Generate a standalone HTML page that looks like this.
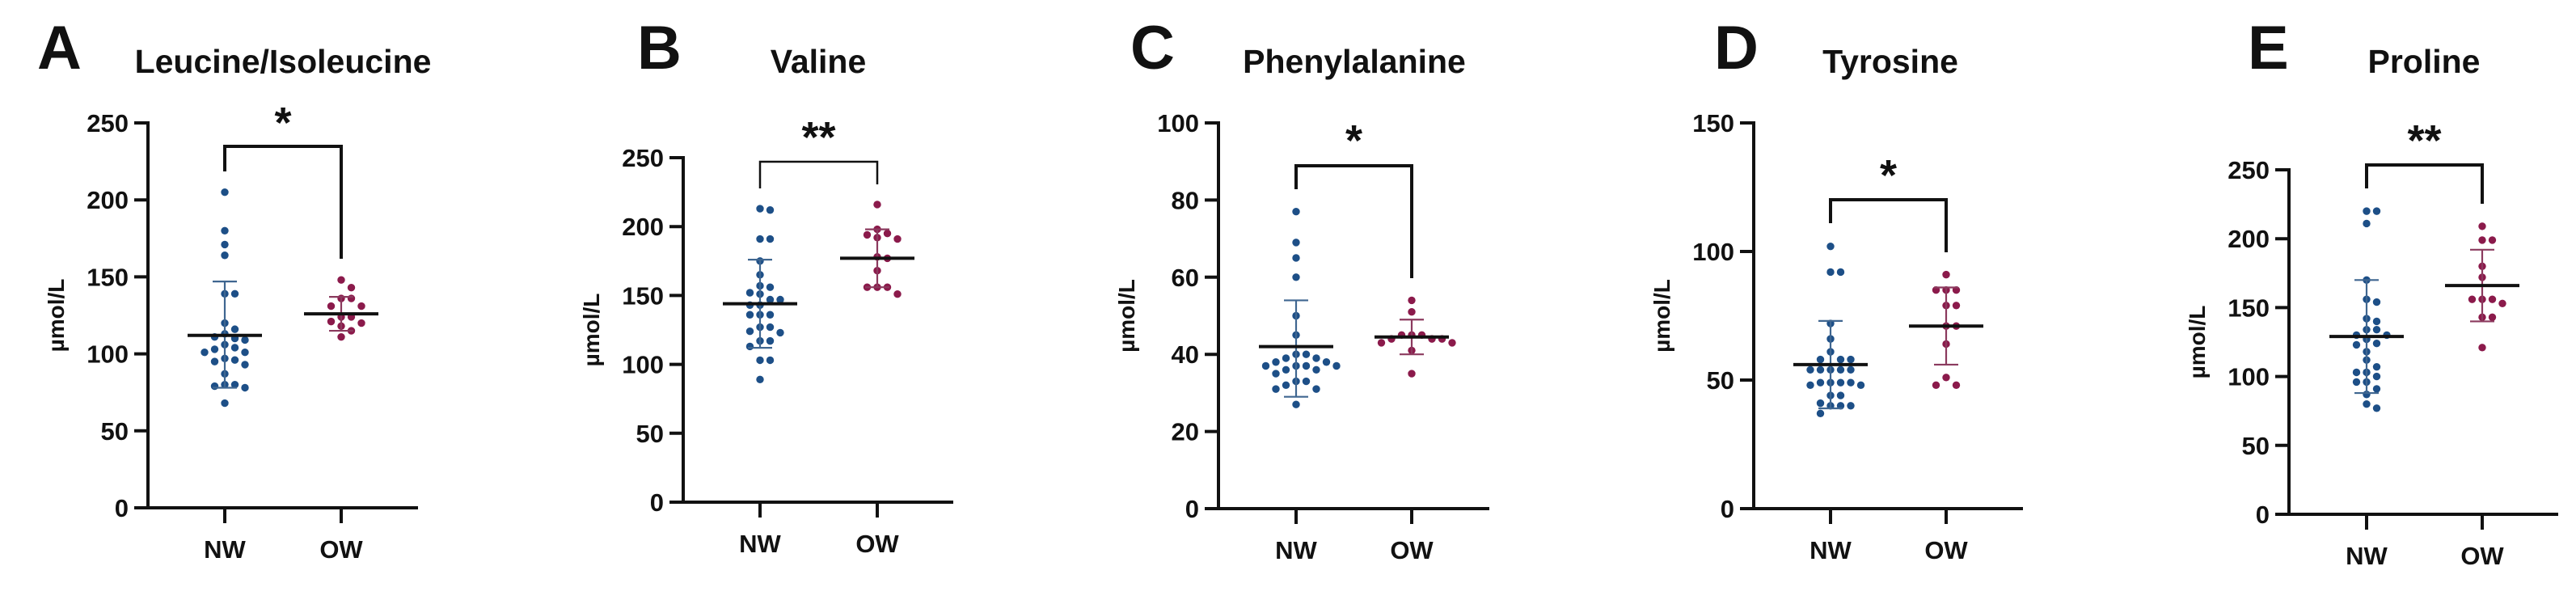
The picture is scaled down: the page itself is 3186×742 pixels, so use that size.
<!DOCTYPE html>
<html><head><meta charset="utf-8"><style>
html,body{margin:0;padding:0;background:#fff;}
svg{display:block;font-family:"Liberation Sans",Arial,sans-serif;font-weight:bold;}
</style></head><body>
<svg id="fig" width="3186" height="742" viewBox="0 0 3186 742" xmlns="http://www.w3.org/2000/svg"></svg>
<script>
const categories = ["NW","OW"];
const titles = ["Leucine/Isoleucine","Valine","Phenylalanine","Tyrosine","Proline"];
const letters = ["A","B","C","D","E"];
const sigLabels = ["*","**","*","*","**"];
const yMaxes = [250,250,100,150,250];
const tickSteps = [50,50,20,50,50];

const nwA = [205,180,171,164,139,139,120,116,113,111,110,109,106,104,103,101,101,97,96,95,93,87,80,80,79,78,68];
const owA = [148,143,136,136,131,131,124,124,121,120,118,115,111];
const nwB = [213,212,191,191,175,165,157,156,152,151,147,147,143,143,136,136,136,127,127,124,123,117,117,113,103,103,89];
const owB = [216,198,195,194,192,191,178,177,168,156,156,156,151];
const nwC = [77,69,65,60,50,45,40,40,39,39,38,38,37,37,37,37,36,36,35,33,33,32,31,31,27];
const owC = [54,51,45,45,45,44,44,44,43,43,41,35];
const nwD = [102,92,92,72,66,61,58,58,58,54,54,54,54,54,49,49,49,49,48,48,44,44,41,40,40,40,37];
const owD = [91,85,85,85,79,79,71,71,64,51,48,48];
const nwE = [220,220,211,170,156,154,142,140,134,134,130,130,127,124,123,118,112,107,103,103,100,96,96,91,87,80,77];
const owE = [209,199,199,180,172,156,156,156,153,143,143,121];

const meansNW = [112,144,42,56,129];
const meansOW = [126,177,44.5,71,166];
const errNW = [[78,147],[112,176],[29,54],[39,73],[88,170]];
const errOW = [[115,137],[156,198],[40,49],[56,86],[140,192]];
const groups = [[nwA,owA],[nwB,owB],[nwC,owC],[nwD,owD],[nwE,owE]];

// layout (pixels)
const layout = [
 {ax:183,xEnd:517,y0:628,yTop:152,nw:278,ow:422,brTop:181,brL:212,brR:320,starY:170,tx:350,lx:46,bw:4},
 {ax:845,xEnd:1179,y0:621,yTop:195,nw:940,ow:1085,brTop:200,brL:233,brR:228,starY:188,tx:1012,lx:788,bw:2.5},
 {ax:1507,xEnd:1842,y0:629,yTop:152,nw:1603,ow:1746,brTop:205,brL:234,brR:344,starY:192,tx:1675,lx:1398,bw:4},
 {ax:2169,xEnd:2502,y0:629,yTop:152,nw:2264,ow:2407,brTop:247,brL:276,brR:312,starY:235,tx:2338,lx:2120,bw:4},
 {ax:2831,xEnd:3164,y0:636,yTop:210,nw:2927,ow:3070,brTop:204,brL:233,brR:252,starY:192,tx:2998,lx:2780,bw:4}
];
const colors = ["#1d4f87","#8b1a4b"];
const barColors = ["#3f6690","#8b3a5e"];
const NS = "http://www.w3.org/2000/svg";
const svg = document.getElementById("fig");
function mk(tag, attrs, parent, text){
  const e = document.createElementNS(NS, tag);
  for (const k in attrs) e.setAttribute(k, attrs[k]);
  if (text !== undefined) e.textContent = text;
  (parent||svg).appendChild(e);
  return e;
}
function beeswarm(vals, yf, cx){
  const placed = [];
  const sorted = vals.map(v=>v).sort((a,b)=>b-a);
  const step = 12.5;
  return sorted.map(v=>{
    const y = yf(v);
    let x = cx;
    const cands = [0];
    for (let i=1;i<12;i++){cands.push(i*step, -i*step);}
    for (const off of cands){
      const tx = cx + off;
      if (!placed.some(p => Math.abs(p[0]-tx) < 12 && Math.abs(p[1]-y) < 10)){ x = tx; break; }
    }
    placed.push([x,y]);
    return [x,y];
  });
}

for (let p=0;p<5;p++){
  const L = layout[p];
  const g = mk("g",{});
  
  
  const yScale = v => L.y0 - (v / yMaxes[p]) * (L.y0 - L.yTop);
  const xs = [L.nw, L.ow];

  const letter = mk("text",{x:L.lx,y:85,"font-size":76,fill:"#111"},g,letters[p]);
  
  
  const title = mk("text",{x:L.tx,y:90,"font-size":41,"text-anchor":"middle",fill:"#111"},g,titles[p]);
  
  

  const yAxis = mk("line",{x1:L.ax,y1:L.yTop-2,x2:L.ax,y2:L.y0+2,stroke:"#111","stroke-width":4},g);
  
  
  const xAxis = mk("line",{x1:L.ax-17,y1:L.y0,x2:L.xEnd,y2:L.y0,stroke:"#111","stroke-width":4},g);
  
  
  for (let v=0; v<=yMaxes[p]; v+=tickSteps[p]){
    const y = yScale(v);
    const t = mk("line",{x1:L.ax-17,y1:y,x2:L.ax,y2:y,stroke:"#111","stroke-width":4},g);
    
    
    const tl = mk("text",{x:L.ax-24,y:y+11,"font-size":31,"text-anchor":"end",fill:"#111"},g,String(v));
    
    
  }
  const ylab = mk("text",{x:0,y:0,"font-size":28,"text-anchor":"middle",fill:"#111",transform:`translate(${L.ax-104},${(L.y0+L.yTop)/2}) rotate(-90)`},g,"\u00B5mol/L");
  
  

  for (let c=0;c<2;c++){
    const xt = mk("line",{x1:xs[c],y1:L.y0,x2:xs[c],y2:L.y0+19,stroke:"#111","stroke-width":4},g);
    
    
    const xl = mk("text",{x:xs[c],y:L.y0+62,"font-size":31,"text-anchor":"middle",fill:"#111"},g,categories[c]);
    
    

    const pts = beeswarm(groups[p][c], yScale, xs[c]);
    pts.forEach(([x,y])=>{
      const dot = mk("circle",{cx:x,cy:y,r:4.7,fill:colors[c]},g);
      
      
    });
    const err = c===0 ? errNW[p] : errOW[p];
    const mean = c===0 ? meansNW[p] : meansOW[p];
    const eb = mk("path",{d:`M${xs[c]},${yScale(err[0])}V${yScale(err[1])}M${xs[c]-15},${yScale(err[0])}H${xs[c]+15}M${xs[c]-15},${yScale(err[1])}H${xs[c]+15}`,stroke:barColors[c],"stroke-width":2.2,fill:"none"},g);
    
    
    const ml = mk("line",{x1:xs[c]-46,y1:yScale(mean),x2:xs[c]+46,y2:yScale(mean),stroke:"#111","stroke-width":4},g);
    
    
  }
  const br = mk("path",{d:`M${L.nw},${L.brL}V${L.brTop}H${L.ow}V${L.brR}`,stroke:"#111","stroke-width":L.bw,fill:"none"},g);
  
  
  const st = mk("text",{x:(L.nw+L.ow)/2,y:L.starY,"font-size":54,"text-anchor":"middle",fill:"#111"},g,sigLabels[p]);
  
  
}
</script>
</body></html>
